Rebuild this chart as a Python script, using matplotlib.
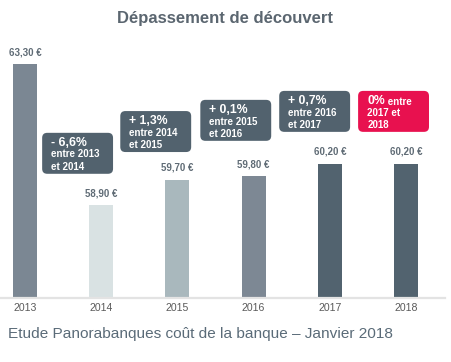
import matplotlib.pyplot as plt
from matplotlib.patches import FancyBboxPatch

plt.rcParams['font.family'] = ['Liberation Sans', 'DejaVu Sans']

annees = ["2013", "2014", "2015", "2016", "2017", "2018"]
montants = [63.30, 58.90, 59.70, 59.80, 60.20, 60.20]
etiquettes = ["63,30 €", "58,90 €", "59,70 €", "59,80 €", "60,20 €", "60,20 €"]
couleurs = ["#7b8793", "#d9e2e3", "#a9b8bd", "#7d8894", "#52636f", "#52636f"]

variations = ["- 6,6%", "+ 1,3%", "+ 0,1%", "+ 0,7%", "0%"]
periodes = [("entre 2013", "et 2014"), ("entre 2014", "et 2015"),
            ("entre 2015", "et 2016"), ("entre 2016", "et 2017"),
            ("2017 et", "2018")]
# position des boites (centre x, haut y) en unites du graphique
centres_boites = [0.69, 1.715, 2.765, 3.80, 4.835]
hauts_boites = [61.16, 61.84, 62.19, 62.47, 62.47]

fig = plt.figure(figsize=(4.51, 3.62), dpi=100)
ax = fig.add_axes([0, 64 / 362, 445 / 451, 258 / 362])

x = list(range(len(annees)))
ax.bar(x, montants, width=0.315, color=couleurs, bottom=0)
ax.set_xlim(-0.328, 5.51)
ax.set_ylim(56, 64.06)

for xi, v, lab in zip(x, montants, etiquettes):
    ax.text(xi, v + 0.22, lab, ha='center', va='bottom', fontsize=7,
            fontweight='bold', color='#5f6b75')

larg = 0.93
haut = 1.28
for var, (l1, l2), cx, top in zip(variations, periodes, centres_boites, hauts_boites):
    rouge = var == "0%"
    fc = "#e8114f" if rouge else "#52626e"
    box = FancyBboxPatch((cx - larg / 2, top - haut), larg, haut,
                         boxstyle="round,pad=0,rounding_size=0.066",
                         mutation_aspect=2.38, fc=fc, ec='none')
    ax.add_patch(box)
    tx = cx - larg / 2 + 0.12
    t0 = ax.text(tx, top - 0.12, var, ha='left', va='top', fontsize=8.8,
                 fontweight='bold', color='white')
    if rouge:
        ax.annotate(" entre", xy=(1, 0), xycoords=t0, va='bottom', ha='left',
                    fontsize=7, fontweight='bold', color='white')
    ax.text(tx, top - 0.52, l1, ha='left', va='top', fontsize=7,
            fontweight='bold', color='white')
    ax.text(tx, top - 0.9, l2, ha='left', va='top', fontsize=7,
            fontweight='bold', color='white')

for s in ['top', 'right', 'left']:
    ax.spines[s].set_visible(False)
ax.spines['bottom'].set_color('#e3e3e3')
ax.spines['bottom'].set_linewidth(1.6)
ax.set_yticks([])
ax.set_xticks(x)
ax.set_xticklabels(annees, fontsize=7.6, color='#5a5a5a')
ax.tick_params(axis='x', length=0, pad=3.5)

fig.text(225 / 451, 1 - 19 / 362, "Dépassement de découvert", ha='center',
         va='center', fontsize=12, fontweight='bold', color='#5b6670')
fig.text(8 / 451, 1 - 334 / 362, "Etude Panorabanques coût de la banque – Janvier 2018",
         ha='left', va='center', fontsize=11.1, color='#5a6b78')

fig.savefig("out.png", dpi=100)
